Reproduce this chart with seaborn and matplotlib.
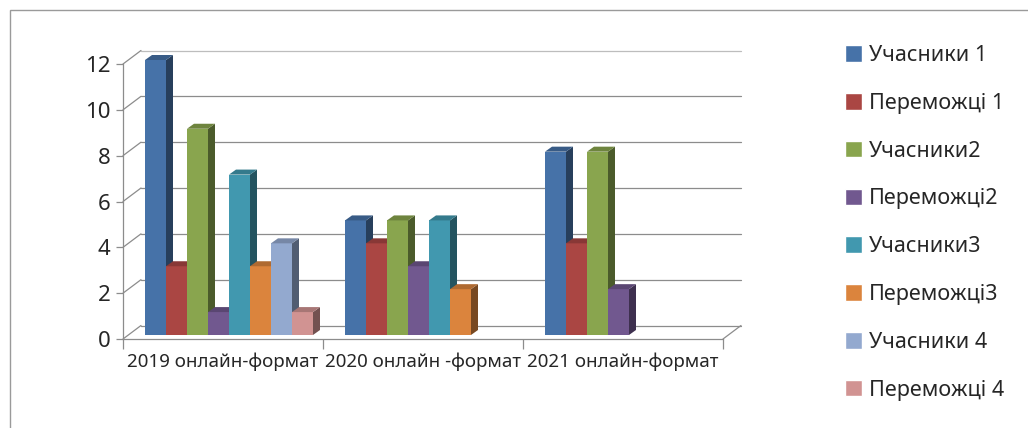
import numpy as np
import pandas as pd
import matplotlib
matplotlib.use('Agg')
import matplotlib.pyplot as plt
import matplotlib.patches as mpatches
import matplotlib.lines as mlines
import seaborn as sns

# data
categories = ['2019 онлайн-формат', '2020 онлайн -формат', '2021 онлайн-формат']
series_names = ['Учасники 1', 'Переможці 1', 'Учасники2', 'Переможці2',
                'Учасники3', 'Переможці3', 'Учасники 4', 'Переможці 4']
uchasnyky_1   = [12, 5, 8]
peremozhtsi_1 = [3, 4, 4]
uchasnyky_2   = [9, 5, 8]
peremozhtsi_2 = [1, 3, 2]
uchasnyky_3   = [7, 5, np.nan]
peremozhtsi_3 = [3, 2, np.nan]
uchasnyky_4   = [4, np.nan, np.nan]
peremozhtsi_4 = [1, np.nan, np.nan]
y_ticks = [0, 2, 4, 6, 8, 10, 12]

# excel 2007 style colours
colours = ['#4672A8', '#AA4643', '#89A54E', '#71588F',
           '#4198AF', '#DB843D', '#93A9CF', '#D19392']
GRID = '#8C8C8C'

all_values = [uchasnyky_1, peremozhtsi_1, uchasnyky_2, peremozhtsi_2,
              uchasnyky_3, peremozhtsi_3, uchasnyky_4, peremozhtsi_4]
rows = []
for name, vals in zip(series_names, all_values):
    for cat, v in zip(categories, vals):
        rows.append({'category': cat, 'series': name, 'value': v})
df = pd.DataFrame(rows).dropna()

sns.set_style('white')
plt.rcParams['font.family'] = ['Noto Sans', 'DejaVu Sans']

W, H = 1028, 428
fig = plt.figure(figsize=(W / 100, H / 100), dpi=100)
# plot area in pixels (front plane)
x_left, x_right = 123, 723
y_zero, y_top = 339, 64
ax = fig.add_axes([x_left / W, (H - y_zero) / H,
                   (x_right - x_left) / W, (y_zero - y_top) / H])

sns.barplot(data=df, x='category', y='value', hue='series',
            order=categories, hue_order=series_names, palette=colours,
            saturation=1, width=0.84, ax=ax, zorder=3)

ax.set_xlim(-0.5, 2.5)
ax.set_ylim(0, 12)

# pixel -> data conversions for the fake 3d depth
px_x = ax.transData.transform((1, 0))[0] - ax.transData.transform((0, 0))[0]
px_y = ax.transData.transform((0, 1))[1] - ax.transData.transform((0, 0))[1]
bar_dx, bar_dy = 7 / px_x, 5 / px_y
wall_dx, wall_dy = 18 / px_x, 13.5 / px_y
# bars stand in the middle of the floor depth
off_x, off_y = 6 / px_x, 4 / px_y


def darker(c, f):
    r, g, b = matplotlib.colors.to_rgb(c)
    return (r * f, g * f, b * f)


# give bars the excel 3d look: dark side + top face
bars = sorted([p for p in ax.patches if p.get_height() > 0], key=lambda p: p.get_x())
for i, p in enumerate(bars):
    p.set_x(p.get_x() + off_x)
    p.set_y(off_y)
    p.set_clip_on(False)
    x0, w, h = p.get_x(), p.get_width(), p.get_height()
    y0, y1 = off_y, off_y + h
    col = p.get_facecolor()
    p.set_zorder(3 + i)
    p.set_edgecolor('none')
    side = mpatches.Polygon([(x0 + w, y0), (x0 + w + bar_dx, y0 + bar_dy),
                             (x0 + w + bar_dx, y1 + bar_dy), (x0 + w, y1)],
                            closed=True, facecolor=darker(col, 0.55),
                            edgecolor='none', zorder=3 + i + 0.5, clip_on=False)
    top = mpatches.Polygon([(x0, y1), (x0 + bar_dx, y1 + bar_dy),
                            (x0 + w + bar_dx, y1 + bar_dy), (x0 + w, y1)],
                           closed=True, facecolor=darker(col, 0.8),
                           edgecolor='none', zorder=3 + i + 0.5, clip_on=False)
    ax.add_patch(side)
    ax.add_patch(top)

# back wall gridlines and side wall diagonals
for t in y_ticks:
    gc = '#BDBDBD' if t == max(y_ticks) else GRID
    ax.add_line(mlines.Line2D([-0.5 + wall_dx, 2.5 + wall_dx], [t + wall_dy, t + wall_dy],
                              color=gc, lw=0.9, zorder=1, clip_on=False))
    ax.add_line(mlines.Line2D([-0.5, -0.5 + wall_dx], [t, t + wall_dy],
                              color=GRID, lw=0.9, zorder=1, clip_on=False))
# right edge of the floor
ax.add_line(mlines.Line2D([2.5, 2.5 + wall_dx], [0, wall_dy],
                          color=GRID, lw=0.9, zorder=1, clip_on=False))

ax.set_yticks(y_ticks)
ax.set_xticks([0, 1, 2])
ax.set_xticks([-0.5, 0.5, 1.5, 2.5], minor=True)
ax.tick_params(axis='x', which='major', length=0, pad=10, labelsize=13.5)
ax.tick_params(axis='x', which='minor', length=7, color=GRID, width=0.9, direction='out')
ax.tick_params(axis='y', length=5, color=GRID, width=0.9, direction='out',
               pad=4, labelsize=16)
ax.tick_params(bottom=True, left=True, which='both')
ax.set_xlabel('')
ax.set_ylabel('')
ax.patch.set_alpha(0)
for s in ['top', 'right']:
    ax.spines[s].set_visible(False)
for s in ['left', 'bottom']:
    ax.spines[s].set_color(GRID)
    ax.spines[s].set_linewidth(0.9)

# legend on the right
handles, labels = ax.get_legend_handles_labels()
ax.get_legend().remove()
fig.legend(handles, labels, loc='upper left',
           bbox_to_anchor=(845 / W, 1 - 45 / H), bbox_transform=fig.transFigure,
           frameon=False, fontsize=15.5, handlelength=0.8, handleheight=0.8,
           handletextpad=0.3, labelspacing=1.245, borderpad=0, borderaxespad=0)

# outer chart border (cropped in the reference)
fig.patches.append(mpatches.Rectangle((10, -20), W + 20, H + 20 - 10,
                                      transform=None, fill=False,
                                      edgecolor='#9A9A9A', lw=1))

fig.savefig('out.png', dpi=100)
